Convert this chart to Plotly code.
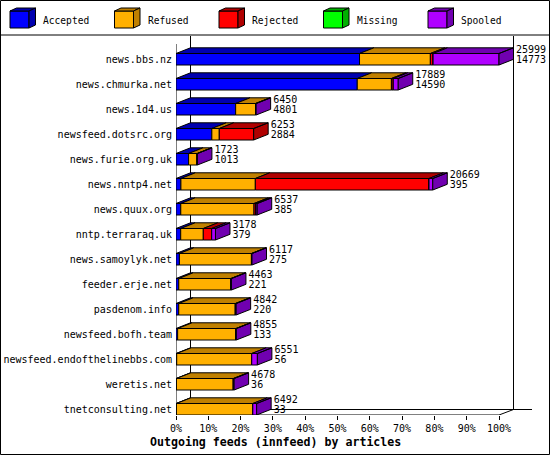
import plotly.graph_objects as go

# ---------------- data ----------------
hosts = ["news.bbs.nz", "news.chmurka.net", "news.1d4.us", "newsfeed.dotsrc.org",
         "news.furie.org.uk", "news.nntp4.net", "news.quux.org", "nntp.terraraq.uk",
         "news.samoylyk.net", "feeder.erje.net", "pasdenom.info", "newsfeed.bofh.team",
         "newsfeed.endofthelinebbs.com", "weretis.net", "tnetconsulting.net"]
totals = [25999, 17889, 6450, 6253, 1723, 20669, 6537, 3178, 6117, 4463, 4842, 4855, 6551, 4678, 6492]
accepted = [14773, 14590, 4801, 2884, 1013, 395, 385, 379, 275, 221, 220, 133, 56, 36, 33]
refused = [5700, 2750, 1600, 600, 690, 5990, 5893, 1818, 5800, 4200, 4560, 4700, 6040, 4580, 6150]
rejected = [220, 150, 0, 2769, 0, 13980, 160, 676, 0, 0, 0, 0, 0, 0, 0]
missing = [0, 0, 0, 0, 0, 0, 0, 0, 0, 0, 0, 0, 0, 0, 0]
spooled = [5306, 399, 49, 0, 20, 304, 99, 305, 42, 42, 62, 22, 455, 62, 309]

series_names = ["Accepted", "Refused", "Rejected", "Missing", "Spooled"]
series_values = [accepted, refused, rejected, missing, spooled]
front_colors = ["#0000ff", "#ffb000", "#ff0000", "#00ff00", "#b000ff"]
shade_colors = ["#0000b0", "#c08000", "#b00000", "#00b000", "#7000b0"]
x_ticks = [0, 10, 20, 30, 40, 50, 60, 70, 80, 90, 100]
x_title = "Outgoing feeds (innfeed) by articles"

# ---------------- geometry ----------------
W, H = 550, 455
L, R, T, B = 176, 1, 36, 40
PW = W - L - R
PH = H - T - B
PX_PER_PCT = 3.23
ROW_PX = 25.0
xmax = PW / PX_PER_PCT
n = len(hosts)
BW = 0.46
y_bottom = (n - 1) + BW / 2
y_top = y_bottom - PH / ROW_PX
DX = 14.5 / PX_PER_PCT
DY = 5.7 / ROW_PX
FONT = "DejaVu Sans Mono"


def px2x(px):
    return (px - L) / PX_PER_PCT


def py2y(py):
    return y_top + (py - T) / ROW_PX


def ppx(px):
    return (px - L) / PW


def ppy(py):
    return (H - B - py) / PH


scale = max(totals)
idx = list(range(n))

fig = go.Figure()

# front faces (bars)
cum = [0.0] * n
bases = []
for k, vals in enumerate(series_values):
    pct = [v / scale * 100 for v in vals]
    bases.append(list(cum))
    fig.add_trace(go.Bar(
        y=idx, x=pct, base=list(cum), orientation="h", width=BW,
        marker=dict(color=front_colors[k], line=dict(color="black", width=1)),
        name=series_names[k], showlegend=False, hoverinfo="skip"))
    cum = [c + p for c, p in zip(cum, pct)]

# last non-zero series per row
last_k = []
for i in range(n):
    lk = 0
    for k, vals in enumerate(series_values):
        if vals[i] > 0:
            lk = k
    last_k.append(lk)

# top and side faces
for k, vals in enumerate(series_values):
    xs, ys = [], []
    for i in range(n):
        if vals[i] <= 0:
            continue
        x0 = bases[k][i]
        x1 = x0 + vals[i] / scale * 100
        yt = i - BW / 2
        yb = i + BW / 2
        xs += [x0, x1, x1 + DX, x0 + DX, x0, None]
        ys += [yt, yt, yt - DY, yt - DY, yt, None]
        if last_k[i] == k:
            xs += [x1, x1 + DX, x1 + DX, x1, x1, None]
            ys += [yt, yt - DY, yb - DY, yb, yt, None]
    if xs:
        fig.add_trace(go.Scatter(
            x=xs, y=ys, mode="lines", fill="toself", fillcolor=shade_colors[k],
            line=dict(color="black", width=1), showlegend=False, hoverinfo="skip"))

# value labels
end_x = [t / scale * 100 + DX + 2.5 / PX_PER_PCT for t in totals]
fig.add_trace(go.Scatter(
    x=end_x, y=[i - 0.36 for i in idx], mode="text", text=[str(t) for t in totals],
    textposition="middle right", textfont=dict(family=FONT, size=10, color="black"),
    cliponaxis=False, showlegend=False, hoverinfo="skip"))
fig.add_trace(go.Scatter(
    x=end_x, y=[i + 0.05 for i in idx], mode="text", text=[str(a) for a in accepted],
    textposition="middle right", textfont=dict(family=FONT, size=10, color="black"),
    cliponaxis=False, showlegend=False, hoverinfo="skip"))

# ---------------- frame ----------------
shapes = []
line = dict(color="black", width=1)


def seg(x0, y0, x1, y1, layer="below"):
    shapes.append(dict(type="line", xref="x", yref="y", x0=px2x(x0), y0=py2y(y0),
                       x1=px2x(x1), y1=py2y(y1), line=line, layer=layer))


back_x0 = L + 14.5
back_x1 = L + 100 * PX_PER_PCT + 14.5
front_r = L + 100 * PX_PER_PCT
seg(back_x0, T, back_x0, H - B - 5.5)
seg(back_x1, T, back_x1, H - B - 5.5)
seg(back_x0, H - B - 5.5, 532, H - B - 5.5)
seg(L - 14.5, H - B + 5, back_x0, H - B - 5.5)
seg(L, 44, L, H - B)
seg(L, H - B, front_r, H - B)
seg(front_r, H - B, back_x1, H - B - 5.5)

# outer border and legend separator
shapes.append(dict(type="rect", xref="paper", yref="paper", x0=ppx(0.5), x1=ppx(549.5),
                   y0=ppy(454.5), y1=ppy(0.5), line=line, layer="above"))
shapes.append(dict(type="line", xref="paper", yref="paper", x0=ppx(0), x1=ppx(550),
                   y0=ppy(35), y1=ppy(35), line=line, layer="above"))

# legend
annotations = []
for k, name in enumerate(series_names):
    bx = 10 + k * 104.5
    fx0, fx1, fy0, fy1 = bx, bx + 19, 11, 28
    ddx, ddy = 6.5, 3
    shapes.append(dict(type="rect", xref="paper", yref="paper",
                       x0=ppx(fx0), x1=ppx(fx1), y0=ppy(fy1), y1=ppy(fy0),
                       fillcolor=front_colors[k], line=line, layer="above"))
    top = "M{},{} L{},{} L{},{} L{},{} Z".format(
        ppx(fx0), ppy(fy0), ppx(fx1), ppy(fy0), ppx(fx1 + ddx), ppy(fy0 - ddy),
        ppx(fx0 + ddx), ppy(fy0 - ddy))
    side = "M{},{} L{},{} L{},{} L{},{} Z".format(
        ppx(fx1), ppy(fy0), ppx(fx1 + ddx), ppy(fy0 - ddy), ppx(fx1 + ddx), ppy(fy1 - ddy),
        ppx(fx1), ppy(fy1))
    for p in (top, side):
        shapes.append(dict(type="path", xref="paper", yref="paper", path=p,
                           fillcolor=shade_colors[k], line=line, layer="above"))
    annotations.append(dict(xref="paper", yref="paper", x=ppx(bx + 31), y=ppy(20),
                            xanchor="left", yanchor="middle", showarrow=False, text=name,
                            font=dict(family=FONT, size=9.6, color="black")))

annotations.append(dict(xref="paper", yref="paper", x=ppx(275), y=ppy(441.5),
                        xanchor="center", yanchor="middle", showarrow=False,
                        text="<b>" + x_title + "</b>",
                        font=dict(family=FONT, size=11.6, color="black")))

fig.update_layout(
    width=W, height=H, margin=dict(l=L, r=R, t=T, b=B, pad=0, autoexpand=False),
    paper_bgcolor="white", plot_bgcolor="white", barmode="overlay",
    showlegend=False, shapes=shapes, annotations=annotations,
    font=dict(family=FONT, size=10, color="black"),
    xaxis=dict(range=[0, xmax], tickvals=x_ticks, ticktext=[f"{t}%" for t in x_ticks],
               ticks="outside", ticklen=4, tickcolor="black", showline=False,
               showgrid=False, zeroline=False, fixedrange=True, automargin=False,
               tickfont=dict(family=FONT, size=10, color="black")),
    yaxis=dict(range=[y_bottom, y_top], tickvals=idx, ticktext=hosts, ticks="",
               showline=False, showgrid=False, zeroline=False, fixedrange=True,
               automargin=False, ticklabelstandoff=3,
               tickfont=dict(family=FONT, size=10, color="black")),
)

fig.write_html("out.html")
